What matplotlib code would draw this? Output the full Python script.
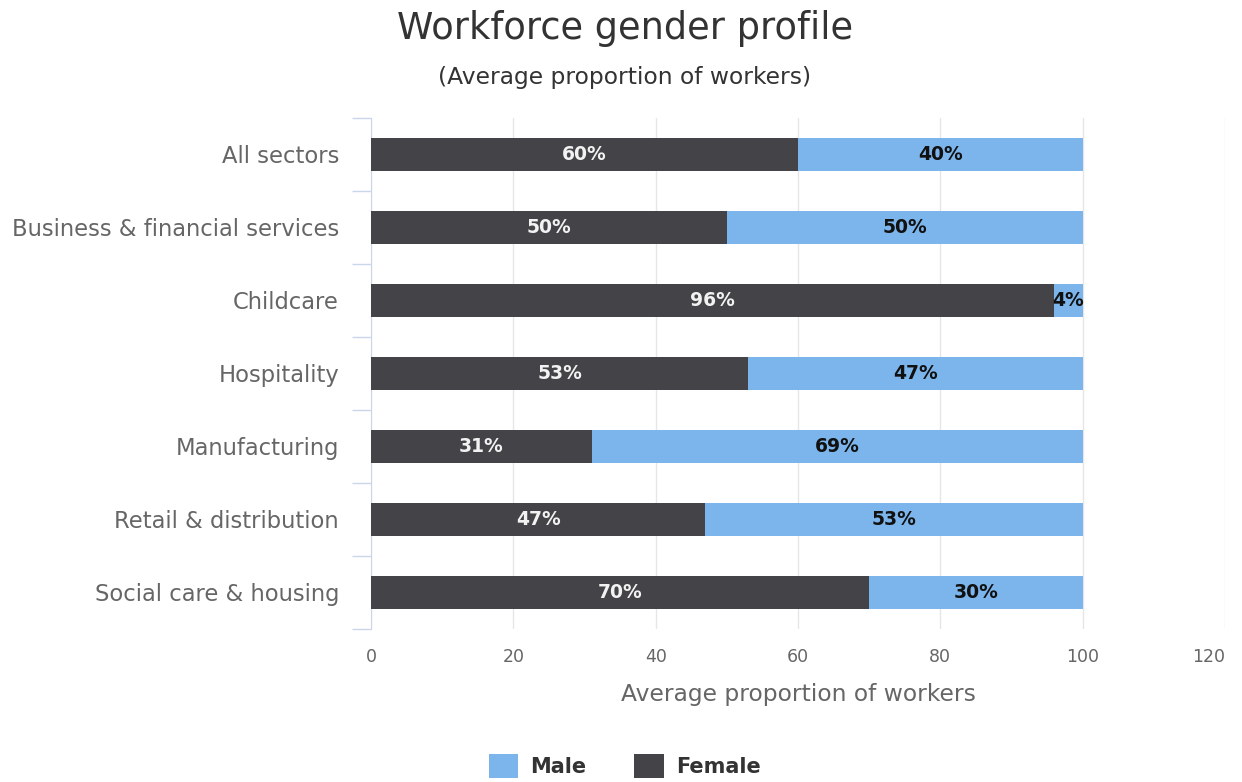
import matplotlib.pyplot as plt
import matplotlib.transforms as mtransforms
import numpy as np

# sector shares of the workforce, in percent
sectors = ['All sectors', 'Business & financial services', 'Childcare',
           'Hospitality', 'Manufacturing', 'Retail & distribution',
           'Social care & housing']
female = [60, 50, 96, 53, 31, 47, 70]
male = [40, 50, 4, 47, 69, 53, 30]

female_col = '#434348'
male_col = '#7cb5ec'

plt.rcParams['font.family'] = ['DejaVu Sans']

fig = plt.figure(figsize=(12.42, 7.82), dpi=100)
ax = fig.add_axes([0.2987, 0.1957, 0.6876, 0.6535])

y = np.arange(len(sectors))
h = 0.46
ax.barh(y, female, height=h, color=female_col, label='Female', zorder=3)
ax.barh(y, male, left=female, height=h, color=male_col, label='Male', zorder=3)

# value labels inside each segment
for i in range(len(sectors)):
    ax.text(female[i] / 2, y[i], '%d%%' % female[i], ha='center', va='center',
            color='#f2f2f2', fontsize=13.5, fontweight='bold', zorder=4)
    ax.text(female[i] + male[i] / 2, y[i], '%d%%' % male[i], ha='center',
            va='center', color='#111111', fontsize=13.5, fontweight='bold', zorder=4)

ax.set_xlim(0, 120)
ax.set_ylim(len(sectors) - 0.5, -0.5)
ax.set_xticks(range(0, 121, 20))
ax.set_yticks(y)
ax.set_yticklabels(sectors)
ax.set_yticks(np.arange(-0.5, len(sectors)), minor=True)
ax.tick_params(axis='y', which='major', length=0, pad=23, labelsize=16.3, labelcolor='#666666')
ax.tick_params(axis='y', which='minor', length=14, color='#ccd6eb', width=1)
ax.tick_params(axis='x', length=0, pad=14, labelsize=12.5, labelcolor='#666666')
ax.grid(axis='x', color='#e6e6e6', linewidth=1, zorder=0)

# keep the last x label inside the plot edge
last = ax.get_xticklabels()[-1]
last.set_transform(last.get_transform() +
                   mtransforms.ScaledTranslation(-0.16, 0, fig.dpi_scale_trans))

for side in ['top', 'right', 'bottom']:
    ax.spines[side].set_visible(False)
ax.spines['left'].set_color('#ccd6eb')

ax.set_xlabel('Average proportion of workers', fontsize=16.8, color='#666666', labelpad=12)

fig.text(0.503, 0.964, 'Workforce gender profile', ha='center', va='center',
         fontsize=26.5, color='#333333')
fig.text(0.503, 0.901, '(Average proportion of workers)', ha='center', va='center',
         fontsize=16.8, color='#333333')

handles, labels = ax.get_legend_handles_labels()
leg = fig.legend(handles[::-1], labels[::-1], loc='center', bbox_to_anchor=(0.503, 0.02),
                 ncol=2, frameon=False, handlelength=1.4, handleheight=1.4,
                 handletextpad=0.6, columnspacing=2.3,
                 prop={'size': 15, 'weight': 'bold'})
for t in leg.get_texts():
    t.set_color('#333333')

fig.savefig('out.png', dpi=100)
